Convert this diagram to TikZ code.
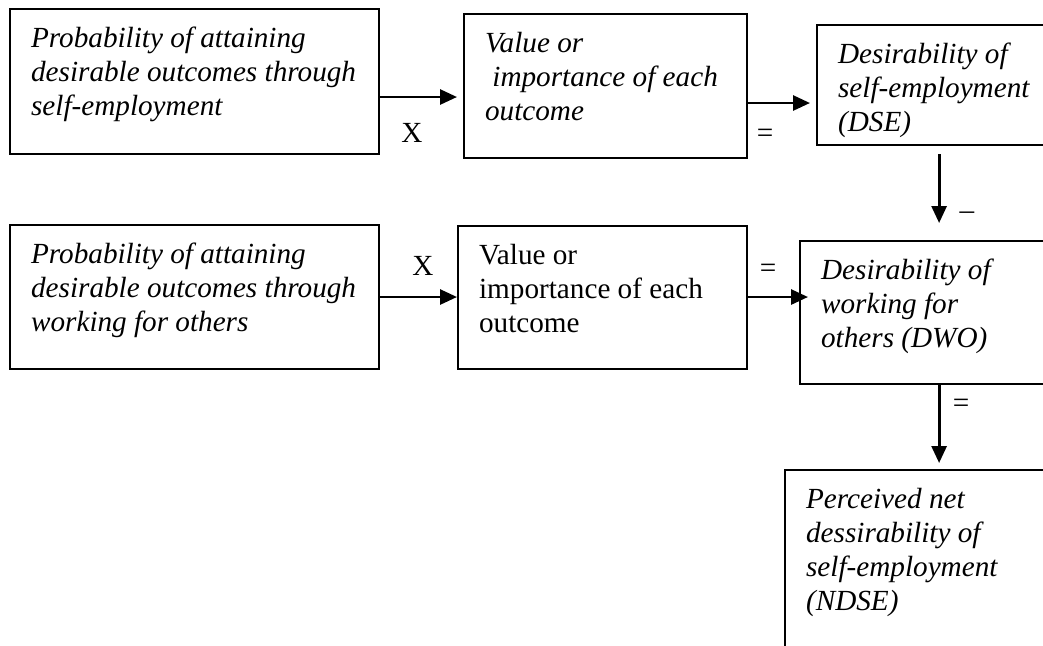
\documentclass[tikz,border=0pt]{standalone}
\usepackage{fontspec}
\setmainfont{Liberation Serif}
\usepackage{tikz}
\usetikzlibrary{arrows.meta,positioning}
\newlength{\pxu}
\setlength{\pxu}{0.5pt}
\newcommand{\boxtext}[3]{\parbox[b][#2\pxu][t]{#1\pxu}{\raggedright\leftskip=21\pxu\rule{0pt}{38\pxu}#3}}
\tikzset{
  box/.style   = {rectangle, draw=black, line width=1.1pt, anchor=north west, inner sep=0pt,
                  font=\fontsize{14.6}{17}\selectfont\itshape},
  upright/.style = {font=\fontsize{14.6}{17}\selectfont\upshape},
  arr/.style   = {-{Triangle[length=8.5pt,width=7.5pt]}, draw=black, line width=1.4pt},
  lab/.style   = {anchor=base, inner sep=0pt, font=\fontsize{14.6}{17}\selectfont},
}
\begin{document}
\begin{tikzpicture}[x=0.5pt, y=-0.5pt]
  \useasboundingbox (0,0) rectangle (1043,645);
  \clip (0,0) rectangle (1043,645);

  \node[box] (pse) at (9,8) {\boxtext{369}{145}{Probability of attaining\\desirable outcomes through\\self-employment}};
  \node[box] (vse) at (463,13) {\boxtext{283}{144}{Value or\\\hspace*{0.25em}importance of each\\outcome}};
  \node[box] (dse) at (816,24) {\boxtext{244}{120}{Desirability of\\self-employment\\(DSE)}};
  \node[box] (pwo) at (9,224) {\boxtext{369}{144}{Probability of attaining\\desirable outcomes through\\working for others}};
  \node[box, upright] (vwo) at (457,225) {\boxtext{289}{143}{Value or\\importance of each\\outcome}};
  \node[box] (dwo) at (799,240) {\boxtext{278}{143}{Desirability of\\working for\\others (DWO)}};
  \node[box] (ndse) at (784,469) {\boxtext{308}{240}{Perceived net\\dessirability of\\self-employment\\(NDSE)}};

  \node[lab] (x1) at (412,142) {X};
  \node[lab] (eq1) at (765,142) {=};
  \node[lab] (mi) at (967,219) {\textendash};
  \node[lab] (x2) at (423,275) {X};
  \node[lab] (eq2) at (768,277) {=};
  \node[lab] (eq3) at (961,412) {=};

  \draw[arr, shorten >=3pt] (pse.east |- 0,97) -- (vse.west |- 0,97);
  \draw[arr, shorten >=3pt] (vse.east |- 0,103) -- (dse.west |- 0,103);
  \draw[arr, shorten <=4pt, shorten >=8.5pt] (dse.south) -- (dwo.north);
  \draw[arr] (pwo.east |- 0,297) -- (vwo.west |- 0,297);
  \draw[arr, shorten >=-4.5pt] (vwo.east |- 0,297) -- (dwo.west |- 0,297);
  \draw[arr, shorten >=3pt] (dwo.south) -- (ndse.north);
\end{tikzpicture}
\end{document}
